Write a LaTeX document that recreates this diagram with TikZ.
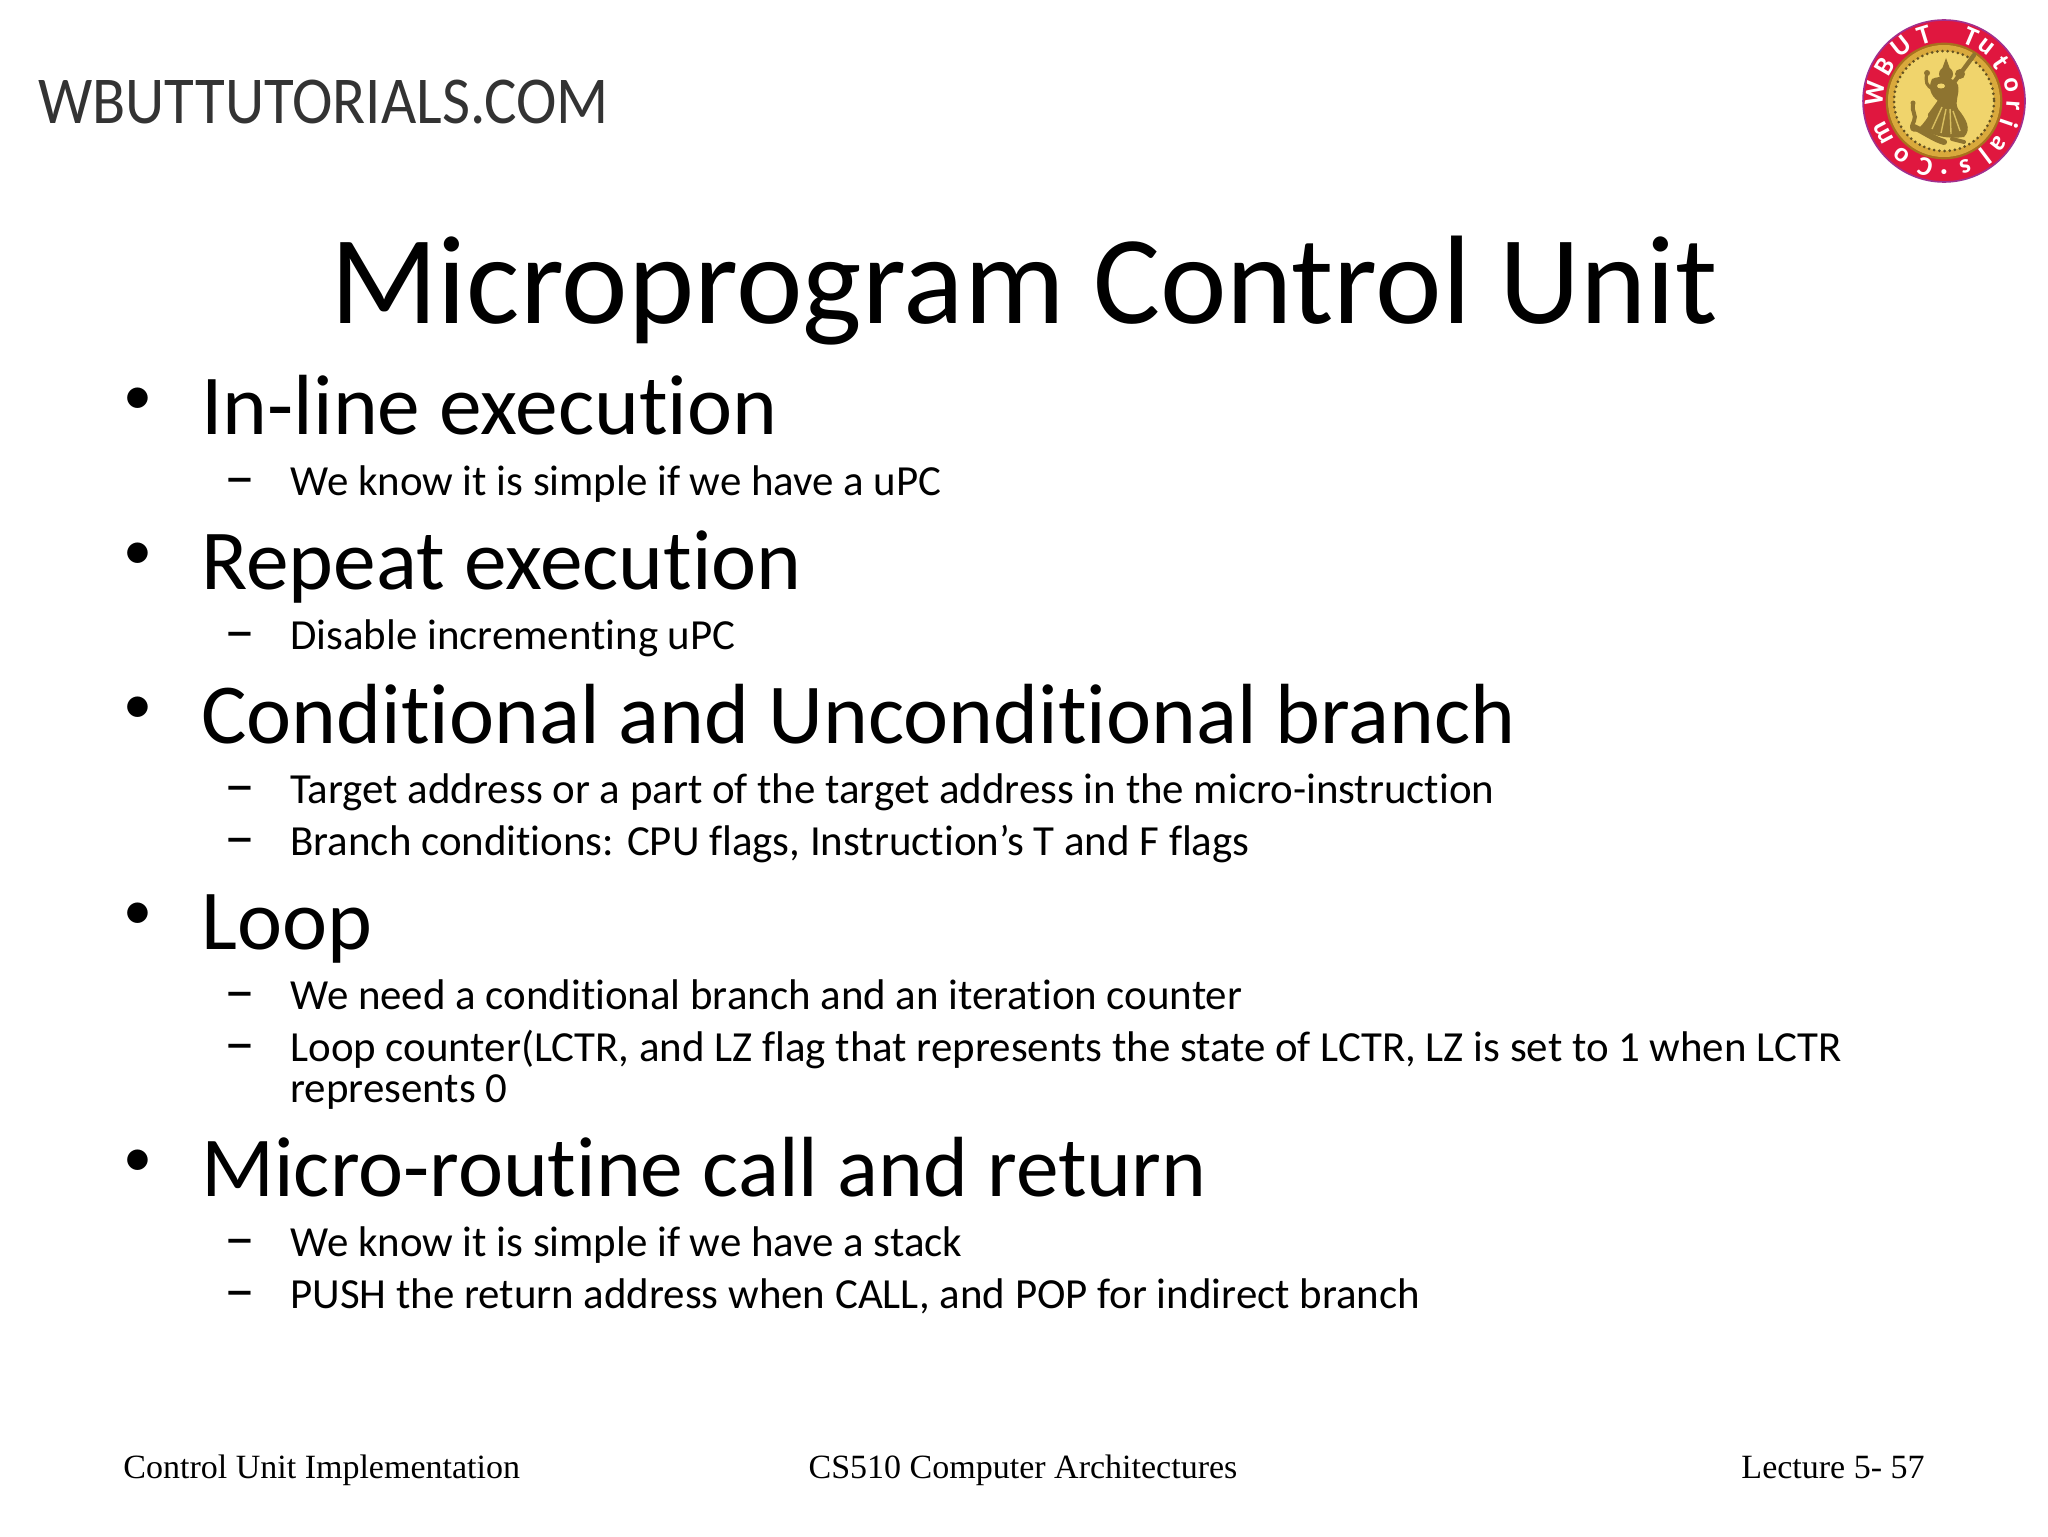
\documentclass[tikz,border=0pt]{standalone}
\usepackage{fontspec}
\setmainfont[Ligatures=CommonOff]{Carlito}
\newfontfamily\footfont{Liberation Serif}
\definecolor{ringred}{HTML}{E0173F}
\definecolor{ringedge}{HTML}{A0308F}
\definecolor{coin}{HTML}{F0D46C}
\definecolor{coinrim}{HTML}{D9A93C}
\definecolor{coinedge}{HTML}{A8701E}
\definecolor{coindark}{HTML}{8E7430}
\definecolor{coinlight}{HTML}{D8BE60}
\definecolor{logogrey}{HTML}{333333}
\tikzset{
  titletext/.style={anchor=base,inner sep=0pt,font=\fontsize{63}{70}\selectfont},
  headtext/.style={anchor=base west,inner sep=0pt,font=\fontsize{42.7}{50}\selectfont},
  subtext/.style={anchor=base west,inner sep=0pt,font=\fontsize{21.45}{26}\selectfont},
  dashmark/.style={anchor=base west,inner sep=0pt,font=\fontsize{31}{36}\selectfont},
  bulletmark/.style={anchor=base,inner sep=0pt,font=\fontsize{29}{34}\selectfont},
  foottext/.style={inner sep=0pt,font=\footfont\fontsize{17}{22}\selectfont},
  ringletter/.style={inner sep=0pt,text=white,font=\bfseries\fontsize{13.5}{14}\selectfont},
  figfill/.style={fill=coindark,draw=none},
  figline/.style={draw=coindark,line cap=round,line join=round}
}
\begin{document}
\begin{tikzpicture}[x=0.5pt,y=-0.5pt]
\useasboundingbox (0,0) rectangle (2048,1536);
\fill[white] (0,0) rectangle (2048,1536);
% header wordmark
\node[anchor=base west,inner sep=0pt,text=logogrey,xscale=0.91] (brand) at (38,123)
  {\fontsize{33.5}{36}\selectfont WBUTTUTORIALS.COM};
% round logo
\coordinate (logoc) at (1944,101);
\fill[ringred,draw=ringedge,line width=0.8pt] (logoc) circle (81);
\fill[coin,draw=coinedge,line width=1.4pt] (logoc) circle (57);
\draw[coinrim,line width=3pt] (logoc) circle (53);
\draw[coindark!70!black,line width=1.5pt,line cap=round,dash pattern=on 0pt off 2.6pt] (logoc) circle (50);
\begin{scope}[shift={(1944,101)}]
  % veena
  \draw[figline,line width=2.2pt] (30,-46) -- (-14,14);
  \fill[coindark] (16,-27) circle (5);
  % head and crown
  \fill[coindark] (2,-43) -- (6,-32) -- (-2,-32) -- cycle;
  \fill[coindark] (2,-27) circle (7);
  % body and skirt
  \fill[figfill] (-12,-22) .. controls (-4,-26) and (10,-24) .. (14,-16)
    .. controls (16,-6) and (10,0) .. (14,8)
    .. controls (22,18) and (28,28) .. (20,36)
    .. controls (6,38) and (-12,36) .. (-24,26)
    .. controls (-16,18) and (-12,8) .. (-6,0)
    .. controls (-14,-6) and (-16,-14) .. (-12,-22) -- cycle;
  % raised arm
  \draw[figline,line width=1.6pt] (-10,-12) .. controls (-18,-14) and (-19,-20) .. (-17,-28);
  \fill[coindark] (-17,-28) circle (3);
  % pleats
  \draw[coinlight,line width=0.7pt] (-2,6) -- (-12,28) (2,8) -- (-3,32) (6,8) -- (7,33) (9,10) -- (16,30);
  \fill[coin] (-3,-15) ellipse (4 and 2.5);
  % peacock
  \draw[figline,line width=2pt] (-31,3) .. controls (-33,10) and (-27,14) .. (-30,20)
    .. controls (-34,28) and (-32,30) .. (-26,28);
  \fill[coindark] (-31,2) circle (2.5);
  \draw[figline,line width=3pt] (-30,26) .. controls (-18,32) and (-10,38) .. (0,41);
  \draw[figline,line width=2pt] (8,38) -- (20,41);
\end{scope}
\foreach \ang/\letter in {174/W,150/B,128/U,107/T,67/T,52/u,34/t,13/o,-4/r,-19/i,-38/a,-53/l,-72/s,-90/\textperiodcentered,-106/C,-128/o,-152/m}{
  \pgfmathsetmacro{\rot}{\ang-90}
  \pgfmathsetmacro{\dx}{69*cos(\ang)}
  \pgfmathsetmacro{\dy}{-69*sin(\ang)}
  \node[ringletter,rotate=\rot] at ([shift={(\dx,\dy)}]logoc) {\letter};
}
% title
\node[titletext] (title) at (1024,323) {Microprogram Control Unit};
% bullets
\foreach \yy/\nm in {434/a,589/b,743/c,949/d,1196/e}{
  \node[bulletmark] (bul\nm) at (138,\yy-20) {•};
}
\node[headtext] (h1) at (201,434) {In-line execution};
\node[headtext] (h2) at (201,589) {Repeat execution};
\node[headtext] (h3) at (201,743) {Conditional and Unconditional branch};
\node[headtext] (h4) at (201,949) {Loop};
\node[headtext] (h5) at (201,1196) {Micro-routine call and return};
% dashes
\foreach \yy/\nm in {494/a,648/b,802/c,854/d,1008/e,1060/f,1255/g,1307/h}{
  \node[dashmark] (dash\nm) at (224,\yy+3) {–};
}
\node[subtext] (s1) at (290,495) {We know it is simple if we have a uPC};
\node[subtext] (s2) at (290,649) {Disable incrementing uPC};
\node[subtext] (s3) at (290,803) {Target address or a part of the target address in the micro-instruction};
\node[subtext] (s4) at (290,855) {Branch conditions: CPU flags, Instruction’s T and F flags};
\node[subtext] (s5) at (290,1009) {We need a conditional branch and an iteration counter};
\node[subtext] (s6) at (290,1061) {Loop counter(LCTR, and LZ flag that represents the state of LCTR, LZ is set to 1 when LCTR};
\node[subtext] (s6b) at (290,1102) {represents 0};
\node[subtext] (s7) at (290,1256) {We know it is simple if we have a stack};
\node[subtext] (s8) at (290,1308) {PUSH the return address when CALL, and POP for indirect branch};
% footer
\node[foottext,anchor=base west] (fl) at (123,1478) {Control Unit Implementation};
\node[foottext,anchor=base] (fc) at (1023,1478) {CS510 Computer Architectures};
\node[foottext,anchor=base east] (fr) at (1925,1478) {Lecture 5- 57};
\end{tikzpicture}
\end{document}
